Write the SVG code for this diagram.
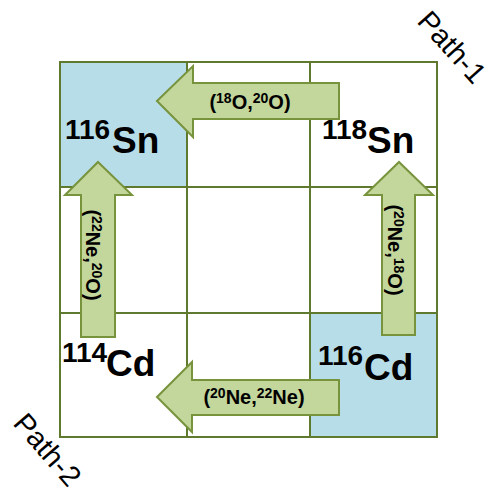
<svg xmlns="http://www.w3.org/2000/svg" width="491" height="497" viewBox="0 0 491 497">
<style>
.grid{fill:none;stroke:#5f7a2e;stroke-width:2}
.blue{fill:#b7dde8;stroke:none}
.arrow{fill:#c3d69b;stroke:#77933c;stroke-width:2;stroke-linejoin:miter}
.nuc{font-family:"Liberation Sans",Arial,sans-serif;font-weight:bold;fill:#000}
.big{font-size:37px}
.num{font-size:28px}
.lab{font-family:"Liberation Sans",Arial,sans-serif;font-weight:bold;font-size:20px;fill:#000}
.sup{font-size:14px}
.path{font-family:"Liberation Sans",Arial,sans-serif;font-size:29px;fill:#000}
</style>
<rect width="491" height="497" fill="#fff"/>
<g id="cells">
<rect class="blue" x="60" y="62" width="127" height="125"/>
<rect class="blue" x="310" y="313" width="127" height="124"/>
</g>
<g id="grid">
<rect class="grid" x="60" y="62" width="377" height="375"/>
<line class="grid" x1="187" y1="62" x2="187" y2="437"/>
<line class="grid" x1="310" y1="62" x2="310" y2="437"/>
<line class="grid" x1="60" y1="187" x2="437" y2="187"/>
<line class="grid" x1="60" y1="313" x2="437" y2="313"/>
</g>
<g id="sn116" class="nuc"><text x="65" y="139" class="num">116</text><text x="112" y="153" class="big">Sn</text></g>
<g id="sn118" class="nuc"><text x="322" y="139" class="num">118</text><text x="367" y="153" class="big">Sn</text></g>
<g id="cd114" class="nuc"><text x="62" y="362" class="num">114</text><text x="106" y="376" class="big">Cd</text></g>
<g id="cd116" class="nuc"><text x="318" y="365" class="num">116</text><text x="364" y="380" class="big">Cd</text></g>
<g id="connectors">
<g id="a-top">
<polygon class="arrow" points="157,101 193,66 193,83 339,83 339,119 193,119 193,137"/>
<text class="lab" x="250" y="109" text-anchor="middle">(<tspan class="sup" dy="-6">18</tspan><tspan dy="6">O,</tspan><tspan class="sup" dy="-6">20</tspan><tspan dy="6">O)</tspan></text>
</g>
<g id="a-bottom">
<polygon class="arrow" points="157,397 192,362 192,380 339,380 339,415 192,415 192,432"/>
<text class="lab" x="254" y="404" text-anchor="middle">(<tspan class="sup" dy="-6">20</tspan><tspan dy="6">Ne,</tspan><tspan class="sup" dy="-6">22</tspan><tspan dy="6">Ne)</tspan></text>
</g>
<g id="a-left">
<polygon class="arrow" points="98,162 132,195 115,195 115,337 81,337 81,195 65,195"/>
<text class="lab" transform="translate(86,255) rotate(90)" text-anchor="middle">(<tspan class="sup" dy="-6">22</tspan><tspan dy="6">Ne,</tspan><tspan class="sup" dy="-6">20</tspan><tspan dy="6">O)</tspan></text>
</g>
<g id="a-right">
<polygon class="arrow" points="399,162 433,195 415,195 415,335 382,335 382,195 365,195"/>
<text class="lab" transform="translate(388,250) rotate(90)" text-anchor="middle">(<tspan class="sup" dy="-6">20</tspan><tspan dy="6">Ne,</tspan><tspan class="sup" dy="-6">18</tspan><tspan dy="6">O)</tspan></text>
</g>
</g>
<text class="path" transform="translate(416,22) rotate(48)">Path-1</text>
<text class="path" transform="translate(12,424) rotate(49)">Path-2</text>
</svg>
